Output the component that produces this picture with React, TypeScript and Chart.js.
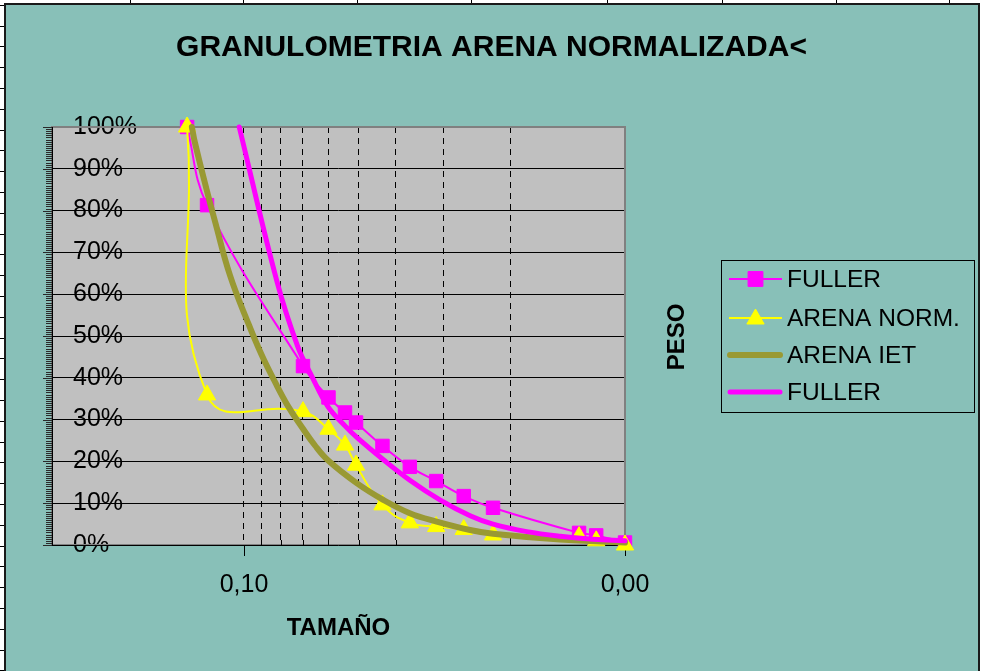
import React, { useEffect, useRef } from "react";
import { Chart, registerables } from "chart.js";

Chart.register(...registerables);

// Sieve openings shared by the two measured gradings (largest first)
const SIEVE_SIZES = [0.141, 0.125, 0.07, 0.06, 0.0543, 0.0508, 0.0433, 0.0367, 0.0313, 0.0265, 0.0222, 0.0132, 0.0119, 0.01];
const FULLER_PASSING = [100, 81.3, 42.8, 35.3, 31.7, 29.3, 23.7, 18.7, 15.3, 11.7, 8.9, 2.9, 2.3, 0.6];
const ARENA_NORM_PASSING = [100, 35.9, 31.9, 27.7, 23.9, 19.1, 9.6, 5.3, 4.4, 3.7, 2.4, 2.0, 1.0, 0];

// IET reference sand envelope
const IET_SIZES = [0.137, 0.1345, 0.1253, 0.1192, 0.1088, 0.0974, 0.0899, 0.0829, 0.0765, 0.0706, 0.0651, 0.0601, 0.0506, 0.0431, 0.0367, 0.0312, 0.0255, 0.0222, 0.0148, 0.01];
const IET_PASSING = [100, 96.3, 85, 77.5, 64.5, 53, 45.5, 39, 33.1, 28.3, 23.8, 20.2, 14.8, 10.8, 7.6, 5.6, 3.6, 2.7, 1.3, 0.6];

// Continuous Fuller curve
const FULLER_CURVE_SIZES = [0.1029, 0.0819, 0.0722, 0.0663, 0.0602, 0.0543, 0.0502, 0.0432, 0.0367, 0.0306, 0.0255, 0.0222, 0.0181, 0.0148, 0.0121, 0.01];
const FULLER_CURVE_PASSING = [100, 63, 47.4, 40.3, 33.1, 28.5, 25.5, 20.5, 15.5, 10.8, 7.0, 5.0, 3.2, 2.1, 1.4, 1.0];

// Axis definition
const X_MIN = 0.01;
const X_MAX = 0.319;
const X_GRID = [0.1, 0.09, 0.08, 0.07, 0.06, 0.05, 0.04, 0.03, 0.02, 0.01];
const X_MAJOR = [0.1, 0.01];
const X_TICK_TEXT = new Map<number, string>([
  [0.1, "0,10"],
  [0.01, "0,00"],
]);
const Y_TICKS = [0, 10, 20, 30, 40, 50, 60, 70, 80, 90, 100];

const TITLE = "GRANULOMETRIA ARENA NORMALIZADA<";
const X_TITLE = "TAMAÑO";
const Y_TITLE = "PESO";

const FONT = "'Liberation Sans', Arial, Helvetica, sans-serif";
const SHEET_BG = "#88C0B8";
const PLOT_BG = "#C0C0C0";

const toPoints = (xs: number[], ys: number[]) => xs.map((x, i) => ({ x, y: ys[i] }));

// Spreadsheet cell lines around the embedded chart
const COLUMN_EDGES = [130, 243, 357, 471, 607, 722, 836, 949];
const ROW_EDGES = Array.from({ length: 33 }, (_, k) => Math.round(4.8 + 20.8 * k));

function drawMarker(ctx: CanvasRenderingContext2D, style: string, x: number, y: number, r: number, color: string) {
  ctx.save();
  ctx.fillStyle = color;
  ctx.strokeStyle = color;
  ctx.lineWidth = 1;
  ctx.beginPath();
  if (style === "rect") {
    const s = Math.SQRT1_2 * r;
    ctx.rect(x - s, y - s, 2 * s, 2 * s);
  } else if (style === "triangle") {
    let a = 0;
    for (let k = 0; k < 3; k++) {
      const px = x + Math.sin(a) * r;
      const py = y - Math.cos(a) * r;
      if (k === 0) ctx.moveTo(px, py);
      else ctx.lineTo(px, py);
      a += (2 * Math.PI) / 3;
    }
    ctx.closePath();
  }
  ctx.fill();
  ctx.stroke();
  ctx.restore();
}

const decorPlugin = {
  id: "granulometriaDecor",
  beforeDraw(chart: any) {
    const { ctx, chartArea: a } = chart;
    ctx.save();
    ctx.fillStyle = PLOT_BG;
    ctx.fillRect(a.left, a.top, a.right - a.left, a.bottom - a.top);
    ctx.restore();
  },
  beforeDatasetsDraw(chart: any) {
    const { ctx, chartArea: a, scales } = chart;
    const xs = scales.x;
    const ys = scales.y;
    ctx.save();
    // plot frame
    ctx.strokeStyle = "#808080";
    ctx.lineWidth = 2;
    ctx.strokeRect(a.left, a.top, a.right - a.left, a.bottom - a.top);
    // axis lines
    ctx.strokeStyle = "#000";
    ctx.lineWidth = 1;
    ctx.beginPath();
    ctx.moveTo(a.left + 0.5, a.top);
    ctx.lineTo(a.left + 0.5, a.bottom + 1);
    ctx.moveTo(a.left, a.bottom + 0.5);
    ctx.lineTo(a.right, a.bottom + 0.5);
    ctx.stroke();
    // y tick marks: minor every 0.5 %, major every 10 %
    ctx.strokeStyle = "#2a2a2a";
    ctx.beginPath();
    for (let v = 0; v <= 100.001; v += 0.5) {
      const y = Math.round(ys.getPixelForValue(v)) + 0.5;
      const major = Math.abs(v / 10 - Math.round(v / 10)) < 1e-6;
      ctx.moveTo(a.left - (major ? 9 : 6), y);
      ctx.lineTo(a.left, y);
    }
    ctx.stroke();
    // x tick marks: minor inward, major outward
    ctx.strokeStyle = "#000";
    ctx.beginPath();
    for (const v of X_GRID) {
      const x = Math.round(xs.getPixelForValue(v)) + 0.5;
      if (X_MAJOR.includes(v)) {
        ctx.moveTo(x, a.bottom);
        ctx.lineTo(x, a.bottom + 11);
      } else {
        ctx.moveTo(x, a.bottom - 5);
        ctx.lineTo(x, a.bottom);
      }
    }
    ctx.stroke();
    ctx.restore();
  },
  afterDraw(chart: any) {
    const { ctx } = chart;
    ctx.save();
    ctx.fillStyle = "#000";
    ctx.textBaseline = "middle";
    // chart title
    ctx.textAlign = "center";
    ctx.font = `bold 30px ${FONT}`;
    ctx.fillText(TITLE, 491.5, 48);
    // value axis title
    ctx.save();
    ctx.translate(677, 337);
    ctx.rotate(-Math.PI / 2);
    ctx.font = `bold 24px ${FONT}`;
    ctx.fillText(Y_TITLE, 0, 0);
    ctx.restore();
    // legend
    ctx.strokeStyle = "#000";
    ctx.lineWidth = 1;
    ctx.strokeRect(721.5, 260.5, 253, 152);
    const rows = [279, 318, 355, 392];
    ctx.font = `24.5px ${FONT}`;
    ctx.textAlign = "left";
    chart.data.datasets.forEach((ds: any, i: number) => {
      const y = rows[i];
      ctx.save();
      ctx.strokeStyle = ds.borderColor;
      ctx.lineWidth = ds.borderWidth;
      ctx.lineCap = ds.pointRadius > 0 ? "butt" : "round";
      ctx.beginPath();
      const x0 = ds.pointRadius > 0 ? 729 : 730;
      const x1 = ds.pointRadius > 0 ? 782 : 780;
      ctx.moveTo(x0, y);
      ctx.lineTo(x1, y);
      ctx.stroke();
      ctx.restore();
      if (ds.pointRadius > 0) {
        drawMarker(ctx, ds.pointStyle, 755.5, ds.pointStyle === "triangle" ? y + 1 : y, ds.pointStyle === "rect" ? 10.5 : 10, ds.backgroundColor);
      }
      ctx.fillStyle = "#000";
      ctx.fillText(ds.label, 787, y + 1);
    });
    ctx.restore();
  },
};

export default function App() {
  const canvasRef = useRef<HTMLCanvasElement | null>(null);

  useEffect(() => {
    document.body.style.margin = "0";
    const canvas = canvasRef.current;
    if (!canvas) return;
    const chart = new Chart(canvas, {
      type: "line",
      data: {
        datasets: [
          {
            label: "FULLER",
            data: toPoints(SIEVE_SIZES, FULLER_PASSING),
            borderColor: "#FF00FF",
            backgroundColor: "#FF00FF",
            borderWidth: 2,
            pointStyle: "rect",
            pointRadius: 9.5,
            pointBorderWidth: 1,
            tension: 0.4,
            clip: false,
            order: 4,
          },
          {
            label: "ARENA NORM.",
            data: toPoints(SIEVE_SIZES, ARENA_NORM_PASSING),
            borderColor: "#FFFF00",
            backgroundColor: "#FFFF00",
            borderWidth: 2,
            pointStyle: "triangle",
            pointRadius: 10,
            pointBorderWidth: 1,
            tension: 0.46,
            clip: false,
            order: 3,
          },
          {
            label: "ARENA IET",
            data: toPoints(IET_SIZES, IET_PASSING),
            borderColor: "#999933",
            backgroundColor: "#999933",
            borderWidth: 6,
            pointRadius: 0,
            tension: 0.4,
            borderCapStyle: "round",
            borderJoinStyle: "round",
            clip: false,
            order: 2,
          },
          {
            label: "FULLER",
            data: toPoints(FULLER_CURVE_SIZES, FULLER_CURVE_PASSING),
            borderColor: "#FF00FF",
            backgroundColor: "#FF00FF",
            borderWidth: 5,
            pointRadius: 0,
            tension: 0.4,
            borderCapStyle: "round",
            borderJoinStyle: "round",
            clip: false,
            order: 1,
          },
        ] as any,
      },
      options: {
        responsive: false,
        animation: false,
        devicePixelRatio: 1,
        events: [],
        layout: { padding: { left: 52, top: 127, right: 358, bottom: 0 } },
        plugins: {
          legend: { display: false },
          title: { display: false },
          tooltip: { enabled: false },
        },
        scales: {
          x: {
            type: "logarithmic",
            reverse: true,
            min: X_MIN,
            max: X_MAX,
            afterBuildTicks: (s: any) => {
              s.ticks = X_GRID.map((v) => ({ value: v }));
            },
            afterFit: (s: any) => {
              s.height = 126;
            },
            ticks: {
              autoSkip: false,
              maxRotation: 0,
              padding: 25,
              color: "#000",
              font: { family: FONT, size: 25 },
              callback: (v: any) => X_TICK_TEXT.get(Number(v)) ?? "",
            },
            grid: {
              color: (c: any) => (c.tick && c.tick.value === 0.01 ? "rgba(0,0,0,0)" : "#000"),
              lineWidth: 1,
              drawTicks: false,
            },
            border: { display: false, dash: [6, 5] },
            title: {
              display: true,
              text: X_TITLE,
              color: "#000",
              font: { family: FONT, size: 24, weight: "bold" },
              padding: { top: 0, bottom: 28 },
            },
          },
          y: {
            type: "linear",
            min: 0,
            max: 100,
            afterBuildTicks: (s: any) => {
              s.ticks = Y_TICKS.map((v) => ({ value: v }));
            },
            afterFit: (s: any) => {
              s.width = 0;
            },
            ticks: {
              mirror: true,
              padding: 21,
              color: "#000",
              font: { family: FONT, size: 25 },
              callback: (v: any) => `${Math.round(Number(v))}%`,
            },
            grid: { color: "#000", lineWidth: 1, drawTicks: false },
            border: { display: false },
          },
        },
      } as any,
      plugins: [decorPlugin],
    });
    return () => chart.destroy();
  }, []);

  return (
    <div style={{ position: "fixed", left: 0, top: 0, width: 983, height: 671, background: "#fff", overflow: "hidden" }}>
      {COLUMN_EDGES.map((x) => (
        <div key={`c${x}`} style={{ position: "absolute", left: x, top: 0, width: 1, height: 5, background: "#000" }} />
      ))}
      {ROW_EDGES.map((y) => (
        <div key={`r${y}`} style={{ position: "absolute", left: 0, top: y, width: 5, height: 1, background: "#000" }} />
      ))}
      <div
        style={{
          position: "absolute",
          left: 4,
          top: 3,
          width: 976,
          height: 700,
          boxSizing: "border-box",
          background: SHEET_BG,
          borderLeft: "2px solid #1a1a1a",
          borderTop: "2px solid #1a1a1a",
          borderRight: "2px solid #1a1a1a",
        }}
      />
      <canvas ref={canvasRef} width={983} height={671} style={{ position: "absolute", left: 0, top: 0, display: "block" }} />
    </div>
  );
}
